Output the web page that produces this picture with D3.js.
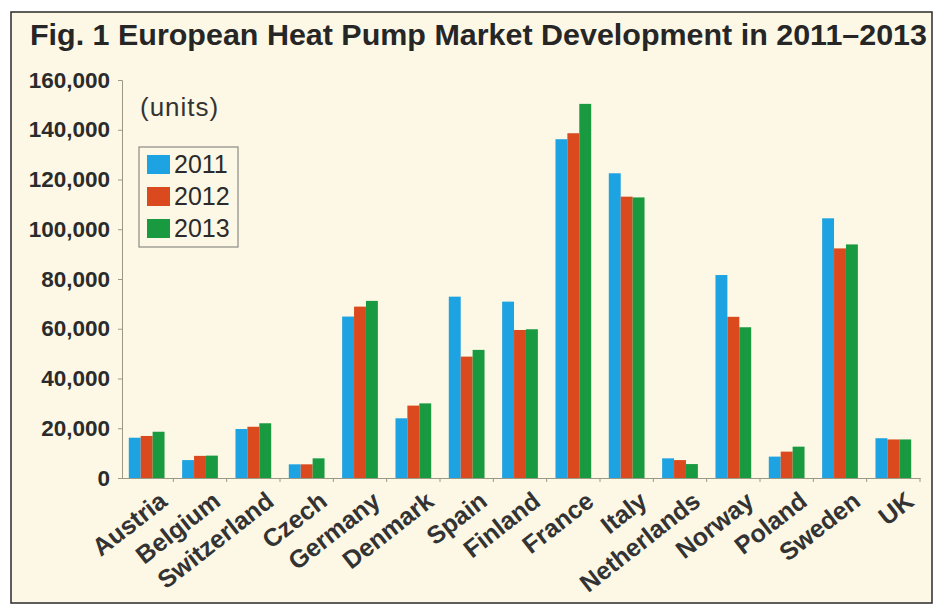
<!DOCTYPE html>
<html>
<head>
<meta charset="utf-8">
<script src="https://cdn.jsdelivr.net/npm/d3@7"></script>
<style>
  html, body { margin: 0; padding: 0; background: #ffffff; }
  svg { display: block; }
  text { font-family: "Liberation Sans", Arial, sans-serif; }
</style>
</head>
<body>
<svg id="chart" width="943" height="605"></svg>
<script>
// ---- data ----
const categories = ["Austria","Belgium","Switzerland","Czech","Germany","Denmark","Spain","Finland","France","Italy","Netherlands","Norway","Poland","Sweden","UK"];
const years = ["2011","2012","2013"];
const values2011 = [16200, 7200, 19700, 5500, 64900, 24000, 72900, 70900, 136200, 122500, 7900, 81600, 8600, 104400, 16000];
const values2012 = [16900, 8900, 20600, 5500, 68900, 29100, 48800, 59500, 138600, 113100, 7200, 64800, 10600, 92300, 15500];
const values2013 = [18600, 9000, 22000, 7900, 71200, 30000, 51500, 59800, 150400, 112800, 5600, 60600, 12600, 93900, 15500];
const yTicks = [0, 20000, 40000, 60000, 80000, 100000, 120000, 140000, 160000];
const titleText = "Fig. 1  European Heat Pump Market Development in 2011\u20132013";
const unitText = "(units)";

const seriesValues = [values2011, values2012, values2013];
const colors = ["#1ea3e2", "#db4a1e", "#199a40"];

const svg = d3.select("#chart");

// frame
svg.append("rect").attr("x", 11).attr("y", 12).attr("width", 921).attr("height", 591)
  .attr("fill", "#fcf8e5").attr("stroke", "#2a2a2a").attr("stroke-width", 1.5);

// title
svg.append("text").attr("x", 30).attr("y", 45)
  .attr("font-size", 30).attr("font-weight", "bold").attr("fill", "#262626")
  .attr("textLength", 897).attr("lengthAdjust", "spacingAndGlyphs")
  .text(titleText);

// scales
const x0 = d3.scaleBand().domain(categories).range([120, 920]).paddingInner(0.33).paddingOuter(0.165);
const x1 = d3.scaleBand().domain(years).range([0, x0.bandwidth()]).padding(0);
const y = d3.scaleLinear().domain([0, 160000]).range([478, 80]);

// bars
const rows = categories.map((c, i) => ({ cat: c, vals: years.map((yr, k) => ({ yr, v: seriesValues[k][i], k })) }));
const groups = svg.append("g").selectAll("g").data(rows).join("g")
  .attr("transform", d => `translate(${x0(d.cat)},0)`);
groups.selectAll("rect").data(d => d.vals).join("rect")
  .attr("x", d => x1(d.yr))
  .attr("width", x1.bandwidth())
  .attr("y", d => y(d.v))
  .attr("height", d => y(0) - y(d.v))
  .attr("fill", d => colors[d.k]);

const axisColor = "#9a9a84";

// y axis
const yAxis = svg.append("g").attr("transform", "translate(122,0)")
  .call(d3.axisLeft(y).tickValues(yTicks).tickFormat(d3.format(",")).tickSize(4).tickPadding(8));
yAxis.select(".domain").attr("stroke", axisColor);
yAxis.selectAll(".tick line").attr("stroke", axisColor);
yAxis.selectAll(".tick text").attr("font-size", 22.5).attr("font-weight", "bold")
  .attr("fill", "#2b2b2b").attr("font-family", "Liberation Sans, Arial, sans-serif");

// x axis
const xAxis = svg.append("g").attr("transform", "translate(0,478)")
  .call(d3.axisBottom(x0).tickSize(0).tickSizeOuter(0));
xAxis.select(".domain").attr("stroke", axisColor);
xAxis.selectAll(".tick text")
  .attr("font-size", 25).attr("font-weight", "bold").attr("fill", "#333333")
  .attr("font-family", "Liberation Sans, Arial, sans-serif")
  .attr("text-anchor", "end")
  .attr("x", 0).attr("y", 0).attr("dy", "0.72em")
  .attr("transform", "translate(11,12) rotate(-38)");
// boundary tick marks between groups
const stepPad = x0.step() * x0.paddingInner() / 2;
xAxis.append("g").selectAll("line").data(categories.slice(1).concat(["__end"]))
  .join("line")
  .attr("x1", d => d === "__end" ? x0(categories[categories.length - 1]) + x0.bandwidth() + stepPad : x0(d) - stepPad)
  .attr("x2", d => d === "__end" ? x0(categories[categories.length - 1]) + x0.bandwidth() + stepPad : x0(d) - stepPad)
  .attr("y1", 0).attr("y2", 4).attr("stroke", axisColor);

// units label
svg.append("text").attr("x", 140).attr("y", 116)
  .attr("font-size", 26).attr("fill", "#333333").attr("letter-spacing", 1)
  .text(unitText);

// legend
const legend = svg.append("g").attr("transform", "translate(139,147)");
legend.append("rect").attr("width", 99).attr("height", 100)
  .attr("fill", "none").attr("stroke", "#8c8c84").attr("stroke-width", 1.2);
const li = legend.selectAll("g.item").data(years).join("g").attr("class", "item")
  .attr("transform", (d, i) => `translate(8,${17 + i * 32})`);
li.append("rect").attr("x", 0).attr("y", -9).attr("width", 23).attr("height", 19)
  .attr("fill", (d, i) => colors[i]);
li.append("text").attr("x", 27).attr("y", 0).attr("dy", "0.36em")
  .attr("font-size", 25).attr("fill", "#2b2b2b").text(d => d);
</script>
</body>
</html>
